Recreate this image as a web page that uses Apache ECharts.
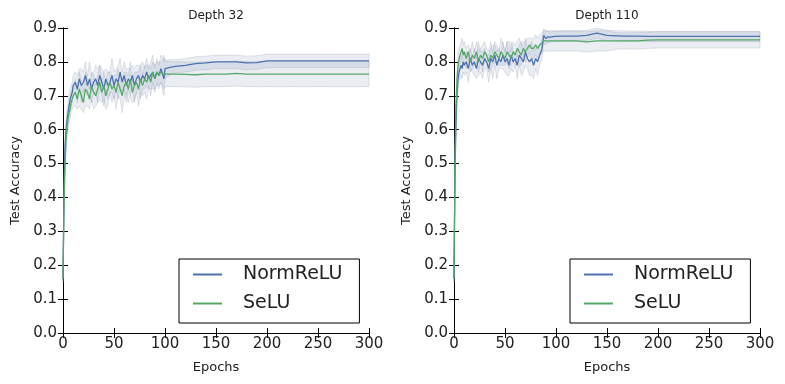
<!DOCTYPE html>
<html>
<head>
<meta charset="utf-8">
<script src="https://cdn.jsdelivr.net/npm/echarts@6/dist/echarts.min.js"></script>
<style>
  html, body { margin: 0; padding: 0; background: #fff; }
  #main { width: 785px; height: 384px; }
</style>
</head>
<body>
<div id="main"></div>
<script>
var epochs = [0, 1, 2, 3, 4, 5, 6, 7, 8, 9, 10,
  12, 14, 16, 18, 20, 22, 24, 26, 28, 30,
  32, 34, 36, 38, 40, 42, 44, 46, 48, 50,
  52, 54, 56, 58, 60, 62, 64, 66, 68, 70,
  72, 74, 76, 78, 80, 82, 84, 86, 88, 90,
  92, 94, 96, 98,
  99, 100, 101, 105, 110,
  120, 130, 140, 150, 160, 170, 180, 190, 200,
  210, 220, 230, 240, 250, 260, 270, 280, 290, 300];

// Depth 32
var normRelu32 = [0.16, 0.42, 0.55, 0.60, 0.63, 0.65, 0.67, 0.69, 0.70, 0.71, 0.73,
  0.74, 0.72, 0.75, 0.73, 0.74, 0.76, 0.73, 0.75, 0.72, 0.74,
  0.75, 0.73, 0.76, 0.74, 0.72, 0.75, 0.73, 0.74, 0.76, 0.73,
  0.75, 0.74, 0.77, 0.74, 0.76, 0.73, 0.75, 0.74, 0.76, 0.73,
  0.75, 0.76, 0.74, 0.76, 0.75, 0.77, 0.75, 0.76, 0.77, 0.75,
  0.77, 0.76, 0.78, 0.76,
  0.75, 0.78, 0.78, 0.784, 0.787,
  0.79, 0.795, 0.797, 0.80, 0.80, 0.80, 0.797, 0.798, 0.803,
  0.803, 0.803, 0.803, 0.803, 0.803, 0.803, 0.803, 0.803, 0.803, 0.803];
var selu32 = [0.16, 0.38, 0.50, 0.57, 0.61, 0.63, 0.65, 0.66, 0.68, 0.69, 0.70,
  0.71, 0.69, 0.72, 0.70, 0.68, 0.72, 0.71, 0.69, 0.73, 0.71,
  0.70, 0.72, 0.74, 0.71, 0.73, 0.70, 0.72, 0.74, 0.72, 0.73,
  0.71, 0.74, 0.72, 0.70, 0.73, 0.74, 0.72, 0.75, 0.71, 0.73,
  0.74, 0.72, 0.75, 0.73, 0.75, 0.74, 0.76, 0.74, 0.77, 0.75,
  0.77, 0.76, 0.77, 0.765,
  0.77, 0.764, 0.764, 0.764, 0.764,
  0.763, 0.762, 0.764, 0.764, 0.764, 0.766, 0.764, 0.764, 0.764,
  0.764, 0.764, 0.764, 0.764, 0.764, 0.764, 0.764, 0.764, 0.764, 0.764];
var normSpread32 = [0.01, 0.03, 0.03, 0.03, 0.03, 0.03, 0.03, 0.03, 0.03, 0.03, 0.03,
  0.03, 0.04, 0.03, 0.05, 0.03, 0.04, 0.03, 0.05, 0.04, 0.03,
  0.04, 0.05, 0.03, 0.04, 0.05, 0.03, 0.04, 0.03, 0.05, 0.04,
  0.03, 0.05, 0.04, 0.03, 0.04, 0.05, 0.03, 0.04, 0.03, 0.05,
  0.04, 0.03, 0.05, 0.04, 0.03, 0.04, 0.03, 0.04, 0.05, 0.03,
  0.04, 0.03, 0.04, 0.05,
  0.05, 0.03, 0.025, 0.022, 0.02,
  0.02, 0.02, 0.02, 0.02, 0.02, 0.02, 0.02, 0.02, 0.02,
  0.02, 0.02, 0.02, 0.02, 0.02, 0.02, 0.02, 0.02, 0.02, 0.02];
var seluSpread32 = [0.01, 0.03, 0.03, 0.03, 0.03, 0.03, 0.03, 0.03, 0.03, 0.03, 0.03,
  0.04, 0.03, 0.05, 0.04, 0.03, 0.05, 0.04, 0.03, 0.04, 0.05,
  0.03, 0.04, 0.05, 0.03, 0.04, 0.04, 0.05, 0.03, 0.04, 0.03,
  0.05, 0.04, 0.03, 0.05, 0.04, 0.03, 0.04, 0.05, 0.03, 0.04,
  0.03, 0.05, 0.04, 0.03, 0.04, 0.05, 0.03, 0.04, 0.03, 0.04,
  0.03, 0.04, 0.03, 0.04,
  0.05, 0.04, 0.037, 0.037, 0.037,
  0.037, 0.037, 0.037, 0.037, 0.037, 0.037, 0.037, 0.037, 0.037,
  0.037, 0.037, 0.037, 0.037, 0.037, 0.037, 0.037, 0.037, 0.037, 0.037];

// Depth 110
var normRelu110 = [0.16, 0.48, 0.63, 0.71, 0.75, 0.77, 0.78, 0.79, 0.78, 0.80, 0.79,
  0.80, 0.78, 0.81, 0.79, 0.80, 0.78, 0.81, 0.80, 0.79, 0.81,
  0.80, 0.78, 0.81, 0.80, 0.82, 0.79, 0.81, 0.80, 0.82, 0.80,
  0.81, 0.79, 0.82, 0.80, 0.81, 0.79, 0.82, 0.81, 0.80, 0.83,
  0.81, 0.80, 0.81, 0.79, 0.81, 0.80, 0.82, 0.835, 0.878, 0.869,
  0.874, 0.873, 0.874, 0.875,
  0.875, 0.875, 0.875, 0.876, 0.876,
  0.876, 0.878, 0.885, 0.878, 0.877, 0.876, 0.876, 0.875, 0.875,
  0.875, 0.875, 0.875, 0.875, 0.875, 0.875, 0.875, 0.875, 0.875, 0.875];
var selu110 = [0.16, 0.52, 0.67, 0.75, 0.79, 0.81, 0.82, 0.83, 0.84, 0.82, 0.83,
  0.81, 0.83, 0.80, 0.82, 0.81, 0.83, 0.80, 0.82, 0.81, 0.83,
  0.82, 0.80, 0.82, 0.81, 0.83, 0.82, 0.81, 0.83, 0.82, 0.81,
  0.83, 0.82, 0.81, 0.83, 0.82, 0.84, 0.83, 0.82, 0.84, 0.83,
  0.84, 0.85, 0.84, 0.84, 0.85, 0.84, 0.85, 0.855, 0.862, 0.862,
  0.861, 0.862, 0.862, 0.862,
  0.862, 0.862, 0.862, 0.862, 0.862,
  0.862, 0.859, 0.862, 0.862, 0.862, 0.862, 0.862, 0.864, 0.865,
  0.865, 0.865, 0.865, 0.865, 0.865, 0.865, 0.865, 0.865, 0.865, 0.865];
var normSpread110 = [0.01, 0.03, 0.03, 0.03, 0.03, 0.03, 0.03, 0.03, 0.03, 0.03, 0.03,
  0.03, 0.04, 0.03, 0.02, 0.04, 0.03, 0.05, 0.03, 0.04, 0.03,
  0.02, 0.04, 0.03, 0.05, 0.03, 0.04, 0.03, 0.02, 0.04, 0.03,
  0.05, 0.03, 0.04, 0.03, 0.02, 0.04, 0.03, 0.05, 0.03, 0.04,
  0.03, 0.04, 0.05, 0.04, 0.03, 0.04, 0.03, 0.03, 0.02, 0.02,
  0.018, 0.015, 0.015, 0.015,
  0.015, 0.015, 0.015, 0.015, 0.015,
  0.015, 0.015, 0.015, 0.015, 0.015, 0.015, 0.015, 0.015, 0.015,
  0.015, 0.015, 0.015, 0.015, 0.015, 0.015, 0.015, 0.015, 0.015, 0.015];
var seluSpread110 = [0.01, 0.03, 0.03, 0.03, 0.03, 0.03, 0.03, 0.03, 0.03, 0.03, 0.03,
  0.03, 0.02, 0.03, 0.04, 0.02, 0.03, 0.03, 0.02, 0.04, 0.03,
  0.02, 0.03, 0.04, 0.02, 0.03, 0.03, 0.02, 0.04, 0.03, 0.02,
  0.03, 0.04, 0.02, 0.03, 0.03, 0.02, 0.04, 0.03, 0.02, 0.03,
  0.03, 0.02, 0.03, 0.03, 0.03, 0.03, 0.03, 0.03, 0.03, 0.03,
  0.03, 0.03, 0.03, 0.03,
  0.03, 0.03, 0.03, 0.03, 0.03,
  0.03, 0.03, 0.03, 0.03, 0.024, 0.024, 0.024, 0.024, 0.024,
  0.024, 0.024, 0.024, 0.024, 0.024, 0.024, 0.024, 0.024, 0.024, 0.024];

var titles = ['Depth 32', 'Depth 110'];
var seriesNames = ['NormReLU', 'SeLU'];
var colors = ['#4c72b0', '#55a868'];
var xTicks = [0, 300, 50];
var yTicks = [0, 0.9, 0.1];

var font = 'DejaVu Sans';
var gridLeft = [63, 454];

function pairs(ys) {
  return epochs.map(function (x, i) { return [x, ys[i]]; });
}
function band(ys, sp) {
  return epochs.map(function (x, i) { return [x, ys[i] - sp[i], ys[i] + sp[i]]; });
}

// draw the whole shaded band as one polygon
function renderBand(params, api) {
  if (params.dataIndexInside !== 0) return null;
  var n = params.dataInsideLength;
  var upper = [], lower = [];
  for (var i = 0; i < n; i++) {
    var x = api.value(0, i);
    upper.push(api.coord([x, api.value(2, i)]));
    lower.unshift(api.coord([x, api.value(1, i)]));
  }
  return {
    type: 'polygon',
    shape: { points: upper.concat(lower) },
    style: { fill: 'rgba(96,116,158,0.13)', stroke: 'rgba(140,150,170,0.35)', lineWidth: 0.7 }
  };
}

var chart = echarts.init(document.getElementById('main'), null, { renderer: 'canvas' });

var grids = [], xAxes = [], yAxes = [], series = [], legends = [], titleTexts = [];
var data = [
  [normRelu32, selu32, normSpread32, seluSpread32],
  [normRelu110, selu110, normSpread110, seluSpread110]
];

for (var g = 0; g < 2; g++) {
  grids.push({ left: gridLeft[g], top: 28, width: 306, height: 305, containLabel: false });
  titleTexts.push({
    type: 'text', x: gridLeft[g] + 153, y: 16,
    style: { text: titles[g], align: 'center', verticalAlign: 'middle',
      fontFamily: font, fontSize: 12, fill: '#222' }
  });
  var axisLine = { show: true, lineStyle: { color: '#000', width: 1 } };
  var tick = { show: true, inside: true, length: 5, lineStyle: { color: '#000' } };
  xAxes.push({
    type: 'value', gridIndex: g, min: xTicks[0], max: xTicks[1], interval: xTicks[2],
    name: 'Epochs', nameLocation: 'middle', nameGap: 28,
    nameTextStyle: { fontFamily: font, fontSize: 13, color: '#222' },
    axisLine: axisLine, axisTick: tick, splitLine: { show: false },
    axisLabel: { fontFamily: font, fontSize: 15, color: '#222', margin: 4 }
  });
  xAxes.push({
    type: 'value', gridIndex: g, position: 'top', min: xTicks[0], max: xTicks[1], interval: xTicks[2],
    axisLine: axisLine, axisTick: tick, splitLine: { show: false }, axisLabel: { show: false }
  });
  yAxes.push({
    type: 'value', gridIndex: g, min: yTicks[0], max: yTicks[1], interval: yTicks[2],
    name: 'Test Accuracy', nameLocation: 'middle', nameGap: 41,
    nameTextStyle: { fontFamily: font, fontSize: 13, color: '#222' },
    axisLine: axisLine, axisTick: tick, splitLine: { show: false },
    axisLabel: { fontFamily: font, fontSize: 15, color: '#222', margin: 6,
      formatter: function (v) { return v.toFixed(1); } }
  });
  yAxes.push({
    type: 'value', gridIndex: g, position: 'right', min: yTicks[0], max: yTicks[1], interval: yTicks[2],
    axisLine: axisLine, axisTick: tick, splitLine: { show: false }, axisLabel: { show: false }
  });

  var d = data[g];
  for (var s = 0; s < 2; s++) {
    series.push({
      name: seriesNames[s] + ' band', type: 'custom', xAxisIndex: g * 2, yAxisIndex: g * 2,
      renderItem: renderBand, data: band(d[s], d[s + 2]),
      encode: { x: 0, y: [1, 2] }, z: 1, silent: true
    });
  }
  for (var s2 = 0; s2 < 2; s2++) {
    series.push({
      name: seriesNames[s2], type: 'line', xAxisIndex: g * 2, yAxisIndex: g * 2,
      data: pairs(d[s2]), showSymbol: false, symbol: 'none',
      lineStyle: { color: colors[s2], width: 1.3 }, itemStyle: { color: colors[s2] },
      z: 3, animation: false
    });
  }

  legends.push({
    data: seriesNames, orient: 'vertical', left: gridLeft[g] + 116, top: 259,
    icon: 'rect', itemWidth: 29, itemHeight: 2, itemGap: 10,
    padding: [6, 17, 10, 14],
    backgroundColor: '#fff', borderColor: '#000', borderWidth: 1, borderRadius: 0,
    textStyle: { fontFamily: font, fontSize: 19, color: '#222', padding: [0, 0, 0, 16] }
  });
}

chart.setOption({
  animation: false,
  graphic: titleTexts,
  grid: grids,
  xAxis: xAxes,
  yAxis: yAxes,
  legend: legends,
  series: series
});
</script>
</body>
</html>
